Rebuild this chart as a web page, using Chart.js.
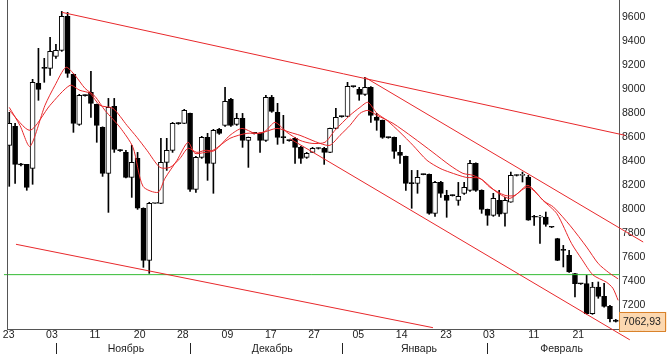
<!DOCTYPE html>
<html lang="ru">
<head>
<meta charset="utf-8">
<title>Chart</title>
<script src="https://cdn.jsdelivr.net/npm/chart.js@4/dist/chart.umd.min.js"></script>
<style>
html,body{margin:0;padding:0;background:#ffffff;overflow:hidden;}
#box{position:relative;width:667px;height:358px;}
canvas{display:block;}
</style>
</head>
<body>
<div id="box"><canvas id="chart" width="667" height="358"></canvas></div>
<script>
// ---------- data ----------
const opens = [8531,8689,8372,8372,8339,9047,9181,9172,9272,9322,9606,9122,8706,8947,8972,8872,8681,8297,8856,8489,
8472,8264,8422,8006,7572,8047,8047,8389,8489,8714,8714,8797,8164,8431,8597,8381,8664,8697,8914,8706,
8756,8572,8631,8631,8572,8931,8806,8597,8572,8589,8514,8431,8472,8506,8506,8472,8672,8772,8772,9022,
8997,8956,9014,8764,8739,8597,8597,8472,8439,8214,8214,8289,8289,7964,8222,8114,8114,8072,8131,8156,
8381,8156,7997,7947,8072,7964,8058,8281,8281,8267,7933,7933,7933,7850,7753,7656,7614,7461,7378,7378,
7128,7350,7272,7189,7075];
const highs = [8806,8714,8380,8372,9081,9339,9256,9431,9372,9647,9639,9125,8956,8952,9147,8875,8685,8922,8922,8495,
8489,8531,8472,8010,8056,8055,8589,8589,8722,8720,8831,8800,8439,8606,8631,8664,8672,9014,8922,8797,
8797,8600,8636,8635,8947,8947,8881,8781,8575,8597,8522,8472,8514,8510,8514,8675,8839,8775,9056,9025,
9014,9097,9020,8797,8742,8600,8600,8531,8441,8322,8322,8292,8292,8231,8231,8156,8118,8222,8222,8406,
8385,8160,8000,8131,8156,8097,8308,8285,8308,8281,7947,7947,7975,7852,7756,7697,7656,7464,7380,7447,
7389,7392,7380,7197,7080];
const lows = [8189,8214,8360,8156,8206,8906,9056,9114,9256,9314,9097,8639,8697,8940,8764,8556,8272,7972,8472,8480,
8260,8097,7997,7514,7464,8045,8045,8322,8472,8706,8712,8147,8139,8422,8239,8131,8622,8689,8689,8697,
8514,8347,8625,8472,8564,8806,8539,8547,8565,8381,8381,8422,8470,8500,8372,8470,8670,8765,8770,9015,
8906,8947,8722,8656,8589,8590,8422,8381,8156,8006,8131,8285,7956,7939,8097,7931,8108,8031,8122,8147,
8147,7964,7864,7939,7939,7856,8056,8275,8225,7906,7864,7714,7856,7845,7570,7517,7472,7267,7372,7125,
7122,7256,7181,7058,7058];
const closes = [8714,8372,8368,8181,9056,8997,9172,9314,9322,9606,9131,8714,8947,8945,8881,8697,8297,8847,8497,8487,
8264,8389,8006,7572,8047,8049,8389,8489,8714,8712,8822,8164,8431,8597,8381,8656,8631,8897,8697,8756,
8572,8597,8630,8572,8931,8814,8597,8595,8570,8514,8422,8464,8506,8504,8472,8672,8764,8770,9022,9020,
8956,9014,8781,8739,8597,8595,8481,8447,8214,8212,8264,8287,7964,8222,8131,8072,8112,8106,8181,8381,
8156,7997,7947,8089,7956,8072,8281,8279,8283,7906,7931,7936,7872,7848,7572,7655,7475,7378,7376,7128,
7350,7272,7189,7086,7062.93];

// moving averages, read as vertices (candle index, value)
const fastMaX = [0,1.83,3.55,6.12,7.84,9.72,11.27,12.98,14.7,16.41,18.98,21.21,22.93,25.5,26.7,28.76,30.64,31.84,33.56,35.27,
37.84,39.9,42.13,43.84,45.56,47.62,49.85,51.9,54.13,55.85,58.42,60.13,61.5,63.05,64.76,67.0,69.22,71.62,73.85,75.56,
78.3,80.71,82.42,85.0,86.71,88.94,91.51,93.9,96.4,98.2,100.1,102.4,103.5,104.4];
const fastMaY = [8847,8697,8522,8864,9031,9181,9114,9006,8939,8822,8681,8514,8189,8139,8256,8406,8556,8464,8472,8489,
8614,8672,8631,8647,8722,8639,8572,8547,8556,8656,8781,8847,8889,8797,8739,8639,8531,8406,8339,8306,
8264,8256,8181,8114,8114,8197,8072,7961,7714,7580,7450,7390,7340,7239];
const slowMaX = [0,3.55,6.98,10.41,12.12,13.84,15.55,17.78,20.18,21.9,23.61,25.84,27.55,29.27,30.64,32.18,33.56,34.93,37.84,40.76,
42.99,45.9,48.13,49.85,53.28,54.99,56.71,58.42,60.13,61.5,63.05,65.8,69.22,72.65,75.56,77.79,79.5,81.22,83.62,85.85,
88.94,91.86,93.3,96.2,99.0,101.0,102.8,104.4];
const slowMaY = [8822,8656,8864,9031,8989,8964,8864,8839,8697,8597,8489,8347,8347,8422,8506,8472,8489,8489,8589,8631,
8631,8672,8639,8614,8547,8531,8614,8697,8797,8822,8781,8714,8597,8472,8364,8297,8281,8239,8139,8089,
8183,8060,8017,7860,7683,7545,7470,7418];

// drawn trend lines: [start index, end index] and [start value, end value]
const trendTopX = [9.04, 105.6],   trendTopY = [9639, 8614];
const chanUpX = [61.0, 108.7],     chanUpY = [9097, 7725];
const chanLowX = [48.1, 106.4],    chanLowY = [8587, 6910];
const trendLowX = [1.15, 72.65],   trendLowY = [7706, 7011];
const supportX = [-0.91, 104.7],   supportLevel = 7453;

// axis labels
const dayTickPos = [-0.1,7.32,14.69,22.36,29.75,37.41,44.84,52.25,59.84,67.28,74.88,82.25,89.94,97.57];
const dayTickLabels = ['23','03','11','20','28','09','17','27','05','14','23','03','11','21'];
const monthLabels = ['Ноябрь','Декабрь','Январь','Февраль'];
const monthCenters = [20.0, 45.1, 70.25, 94.7];
const monthStarts = [8, 31, 57, 82];
const yTickValues = [7000,7200,7400,7600,7800,8000,8200,8400,8600,8800,9000,9200,9400,9600];
const lastPrice = 7062.93;

// ---------- build ----------
const FONT = '"Liberation Sans", Arial, sans-serif';
const idx = closes.map((_, i) => i);
const wickData = idx.map(i => ({x: i, y: [lows[i], highs[i]]}));
const bodyData = idx.map(i => ({x: i, y: [opens[i], closes[i]]}));
const bodyFill = idx.map(i => closes[i] >= opens[i] ? '#ffffff' : '#000000');
const pts = (xs, ys) => xs.map((x, i) => ({x: x, y: ys[i]}));
const RED = '#e8282b';

const decor = {
  id: 'decor',
  afterDraw(chart) {
    const {ctx, chartArea: a, scales} = chart;
    const x = scales.x, y = scales.y;
    ctx.save();
    // left frame line
    ctx.strokeStyle = '#555555';
    ctx.lineWidth = 1;
    ctx.beginPath();
    ctx.moveTo(a.left + 0.5, a.top);
    ctx.lineTo(a.left + 0.5, a.bottom);
    ctx.stroke();
    // month separators and names
    ctx.strokeStyle = '#222222';
    monthStarts.forEach(v => {
      const px = Math.round(x.getPixelForValue(v)) + 0.5;
      ctx.beginPath();
      ctx.moveTo(px, a.bottom + 14);
      ctx.lineTo(px, a.bottom + 25);
      ctx.stroke();
    });
    ctx.fillStyle = '#222222';
    ctx.font = '10.5px ' + FONT;
    ctx.textAlign = 'center';
    ctx.textBaseline = 'middle';
    monthLabels.forEach((m, i) => ctx.fillText(m, x.getPixelForValue(monthCenters[i]), a.bottom + 20.5));
    // last price label
    const py = y.getPixelForValue(lastPrice);
    const bx = a.right + 0.5, bw = 47, bh = 19;
    ctx.fillStyle = '#fcd8b0';
    ctx.strokeStyle = '#d9822b';
    ctx.fillRect(bx, py - 9.5, bw, bh);
    ctx.strokeRect(bx, Math.round(py - 9.5) + 0.5, bw - 1, bh);
    ctx.fillStyle = '#222222';
    ctx.textAlign = 'left';
    ctx.fillText(lastPrice.toFixed(2).replace('.', ','), a.right + 4, py + 0.5);
    ctx.restore();
  }
};

new Chart(document.getElementById('chart'), {
  type: 'bar',
  data: {
    datasets: [
      {type: 'line', label: 'fast', data: pts(fastMaX, fastMaY), borderColor: RED, borderWidth: 1, pointRadius: 0, tension: 0.25, order: 0},
      {type: 'line', label: 'slow', data: pts(slowMaX, slowMaY), borderColor: RED, borderWidth: 1, pointRadius: 0, tension: 0.25, order: 0},
      {type: 'line', label: 't1', data: pts(trendTopX, trendTopY), borderColor: RED, borderWidth: 1, pointRadius: 0, clip: false, order: 0},
      {type: 'line', label: 't2', data: pts(chanUpX, chanUpY), borderColor: RED, borderWidth: 1, pointRadius: 0, clip: false, order: 0},
      {type: 'line', label: 't3', data: pts(chanLowX, chanLowY), borderColor: RED, borderWidth: 1, pointRadius: 0, clip: false, order: 0},
      {type: 'line', label: 't4', data: pts(trendLowX, trendLowY), borderColor: RED, borderWidth: 1, pointRadius: 0, clip: false, order: 0},
      {type: 'line', label: 'sup', data: pts(supportX, [supportLevel, supportLevel]), borderColor: '#33bb33', borderWidth: 1, pointRadius: 0, clip: false, order: 0},
      {label: 'body', data: bodyData, backgroundColor: bodyFill, borderColor: '#000000', borderWidth: 1, borderSkipped: false,
       barThickness: 5, minBarLength: 1, grouped: false, order: 1},
      {label: 'wick', data: wickData, backgroundColor: '#000000', borderWidth: 0, barThickness: 1, grouped: false, order: 2}
    ]
  },
  options: {
    responsive: false,
    animation: false,
    devicePixelRatio: 1,
    layout: {padding: {left: 7, top: 0, right: 0, bottom: 0}},
    plugins: {legend: {display: false}, tooltip: {enabled: false}},
    scales: {
      x: {
        type: 'linear', position: 'bottom', min: -0.39, max: 104.55, offset: false,
        grid: {display: false, drawTicks: false},
        border: {display: true, color: '#555555', width: 1},
        afterBuildTicks: s => { s.ticks = dayTickPos.map(v => ({value: v})); },
        afterFit: s => { s.height = 29; s.paddingLeft = 0; s.paddingRight = 0; },
        ticks: {autoSkip: false, maxRotation: 0, minRotation: 0, padding: 0, color: '#222222',
                font: {family: FONT, size: 10.5},
                callback: (v, i) => dayTickLabels[i]}
      },
      y: {
        type: 'linear', position: 'right', min: 7000, max: 9742,
        grid: {display: false, drawTicks: false},
        border: {display: true, color: '#555555', width: 1},
        afterBuildTicks: s => { s.ticks = yTickValues.map(v => ({value: v})); },
        afterFit: s => { s.width = 48; s.paddingTop = 0; s.paddingBottom = 0; },
        ticks: {padding: 3, color: '#222222', font: {family: FONT, size: 10.5},
                callback: v => String(v)}
      }
    }
  },
  plugins: [decor]
});
</script>
</body>
</html>
